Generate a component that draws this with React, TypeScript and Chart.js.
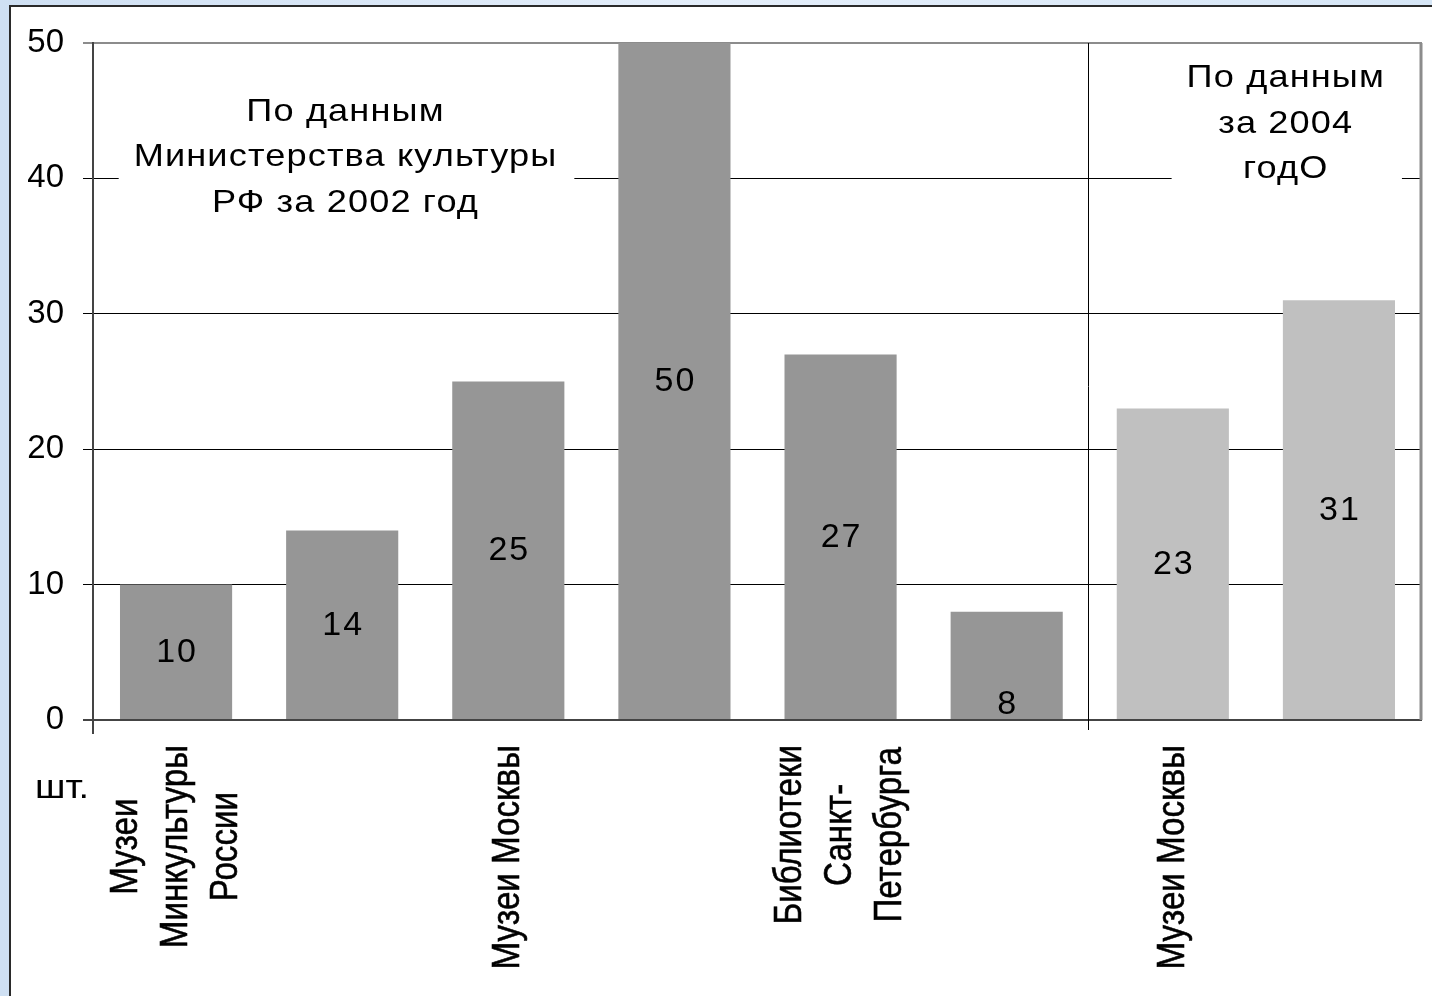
import React, { useEffect, useRef } from 'react';
import { Chart, registerables } from 'chart.js';

Chart.register(...registerables);

// ---------- data ----------
const categories: string[][] = [
  ['Музеи', 'Минкультуры', 'России'],
  [],
  ['Музеи Москвы'],
  [],
  ['Библиотеки', 'Санкт-', 'Петербурга'],
  [],
  ['Музеи Москвы'],
  [],
];
const values: number[] = [10, 14, 25, 50, 27, 8, 23, 31];
const sourceYear: string[] = ['2002', '2002', '2002', '2002', '2002', '2002', '2004', '2004'];
const yTickValues: number[] = [0, 10, 20, 30, 40, 50];
const unitLabel = 'шт.';
const noteLeft: string[] = ['По данным', 'Министерства культуры', 'РФ за 2002 год'];
const noteRight: string[] = ['По данным', 'за 2004', 'годО'];

// ---------- style ----------
const yearColor: Record<string, string> = { '2002': '#969696', '2004': '#c0c0c0' };
const labelPosRatio = [0.5, 0.5, 0.5, 0.5, 0.5, 0.14, 0.5, 0.5];
const FONT = '"Liberation Sans", Arial, sans-serif';

const overlayPlugin = {
  id: 'overlay',
  afterDatasetsDraw(chart: any) {
    const { ctx, chartArea: a } = chart;
    const x = chart.scales.x;
    const y = chart.scales.y;
    ctx.save();

    // bottom axis line (on top of bars)
    ctx.strokeStyle = '#444';
    ctx.lineWidth = 2;
    ctx.beginPath();
    ctx.moveTo(a.left - 10, y.getPixelForValue(0));
    ctx.lineTo(a.right, y.getPixelForValue(0));
    ctx.stroke();
    // left axis extension below 0
    ctx.beginPath();
    ctx.moveTo(a.left, a.top);
    ctx.lineTo(a.left, a.bottom + 14);
    ctx.stroke();

    // right border of plot area
    ctx.strokeStyle = '#8c8c8c';
    ctx.lineWidth = 3;
    ctx.beginPath();
    ctx.moveTo(a.right - 1, a.top);
    ctx.lineTo(a.right - 1, a.bottom);
    ctx.stroke();

    // separator between 2002 and 2004 groups
    const sepX = Math.round(x.getPixelForValue(5.5)) - 1.5;
    ctx.strokeStyle = '#000';
    ctx.lineWidth = 1;
    ctx.beginPath();
    ctx.moveTo(sepX, a.top);
    ctx.lineTo(sepX, a.bottom + 10);
    ctx.stroke();

    // value labels
    ctx.fillStyle = '#000';
    ctx.font = `34px ${FONT}`;
    (ctx as any).letterSpacing = '2px';
    ctx.textAlign = 'center';
    ctx.textBaseline = 'middle';
    values.forEach((v, i) => {
      const px = x.getPixelForValue(i);
      const py = y.getPixelForValue(v * labelPosRatio[i]);
      ctx.fillText(String(v), px + 1, py);
    });

    // notes with white background
    const drawNote = (lines: string[], xv: number, yv: number) => {
      ctx.font = `32px ${FONT}`;
      (ctx as any).letterSpacing = '1px';
      const stretch = 1.13;
      const lh = 45.5;
      const cx = x.getPixelForValue(xv);
      const cy = y.getPixelForValue(yv);
      const w = Math.max(...lines.map((l) => ctx.measureText(l).width)) * stretch;
      ctx.fillStyle = '#fff';
      ctx.fillRect(cx - w / 2 - 15, cy - 24, w + 32, lh * (lines.length - 1) + 48);
      ctx.fillStyle = '#000';
      ctx.textAlign = 'center';
      ctx.textBaseline = 'middle';
      lines.forEach((l, i) => {
        ctx.save();
        ctx.translate(cx, cy + i * lh);
        ctx.scale(stretch, 1);
        ctx.fillText(l, 0, 0);
        ctx.restore();
      });
    };
    drawNote(noteLeft, 1.02, 44.9);
    drawNote(noteRight, 6.68, 47.4);

    // rotated category labels
    ctx.font = `39px ${FONT}`;
    (ctx as any).letterSpacing = '0px';
    const squash = 0.85;
    const lineGap = 50;
    categories.forEach((lines, i) => {
      if (!lines.length) return;
      const cx = x.getPixelForValue(i);
      const widths = lines.map((l) => ctx.measureText(l).width * squash);
      const maxW = Math.max(...widths);
      const topY = a.bottom + 25;
      const centerY = topY + maxW / 2;
      lines.forEach((l, j) => {
        const lx = cx + (j - (lines.length - 1) / 2) * lineGap;
        ctx.save();
        ctx.translate(lx, centerY);
        ctx.rotate(-Math.PI / 2);
        ctx.scale(squash, 1);
        ctx.fillStyle = '#000';
        ctx.strokeStyle = '#000';
        ctx.lineWidth = 0.6;
        ctx.textAlign = 'center';
        ctx.textBaseline = 'middle';
        ctx.fillText(l, 0, 0);
        ctx.strokeText(l, 0, 0);
        ctx.restore();
      });
    });

    // unit label
    ctx.font = `33px ${FONT}`;
    ctx.fillStyle = '#000';
    ctx.textAlign = 'left';
    ctx.textBaseline = 'alphabetic';
    ctx.save();
    ctx.translate(a.left - 58, a.bottom + 78);
    ctx.scale(1.15, 1);
    ctx.fillText(unitLabel, 0, 0);
    ctx.restore();

    ctx.restore();
  },
};

export default function App() {
  const ref = useRef<HTMLCanvasElement | null>(null);
  useEffect(() => {
    if (!ref.current) return;
    const chart = new Chart(ref.current, {
      type: 'bar',
      data: {
        labels: categories.map((c, i) => (c.length ? c.join(' ') : ' '.repeat(i + 1))),
        datasets: [
          {
            data: values,
            backgroundColor: sourceYear.map((yr) => yearColor[yr]),
            borderWidth: 0,
            categoryPercentage: 1,
            barPercentage: 0.675,
          },
        ],
      },
      options: {
        responsive: false,
        animation: false,
        layout: { padding: { left: 0, top: 43, right: 10, bottom: 0 } },
        plugins: { legend: { display: false }, tooltip: { enabled: false } },
        scales: {
          x: {
            grid: { display: false },
            border: { display: false },
            ticks: { display: false },
            afterFit: (s: any) => {
              s.height = 276;
            },
          },
          y: {
            min: 0,
            max: 50,
            afterBuildTicks: (s: any) => {
              s.ticks = yTickValues.map((v) => ({ value: v }));
            },
            afterFit: (s: any) => {
              s.width = 93;
            },
            ticks: {
              color: '#000',
              padding: 19,
              font: { family: FONT, size: 33 },
            },
            grid: {
              drawTicks: true,
              tickLength: 10,
              color: (c: any) => (c.tick && c.tick.value === 50 ? '#8c8c8c' : '#000'),
              lineWidth: (c: any) => (c.tick && c.tick.value === 50 ? 2 : 1),
            },
            border: { display: true, color: '#444', width: 2 },
          },
        },
      },
      plugins: [overlayPlugin],
    });
    return () => chart.destroy();
  }, []);

  return (
    <div
      style={{
        position: 'fixed',
        inset: 0,
        background: 'linear-gradient(to right, #cfe0f3, #e4eefa 50%, #d6e6f6)',
      }}
    >
      <div
        style={{
          position: 'absolute',
          left: 9,
          top: 5,
          right: 0,
          bottom: 0,
          background: '#fff',
          borderLeft: '2px solid #2a2a2a',
          borderTop: '2px solid #2a2a2a',
        }}
      />
      <canvas
        ref={ref}
        width={1432}
        height={996}
        style={{ position: 'absolute', left: 0, top: 0, width: 1432, height: 996 }}
      />
    </div>
  );
}
